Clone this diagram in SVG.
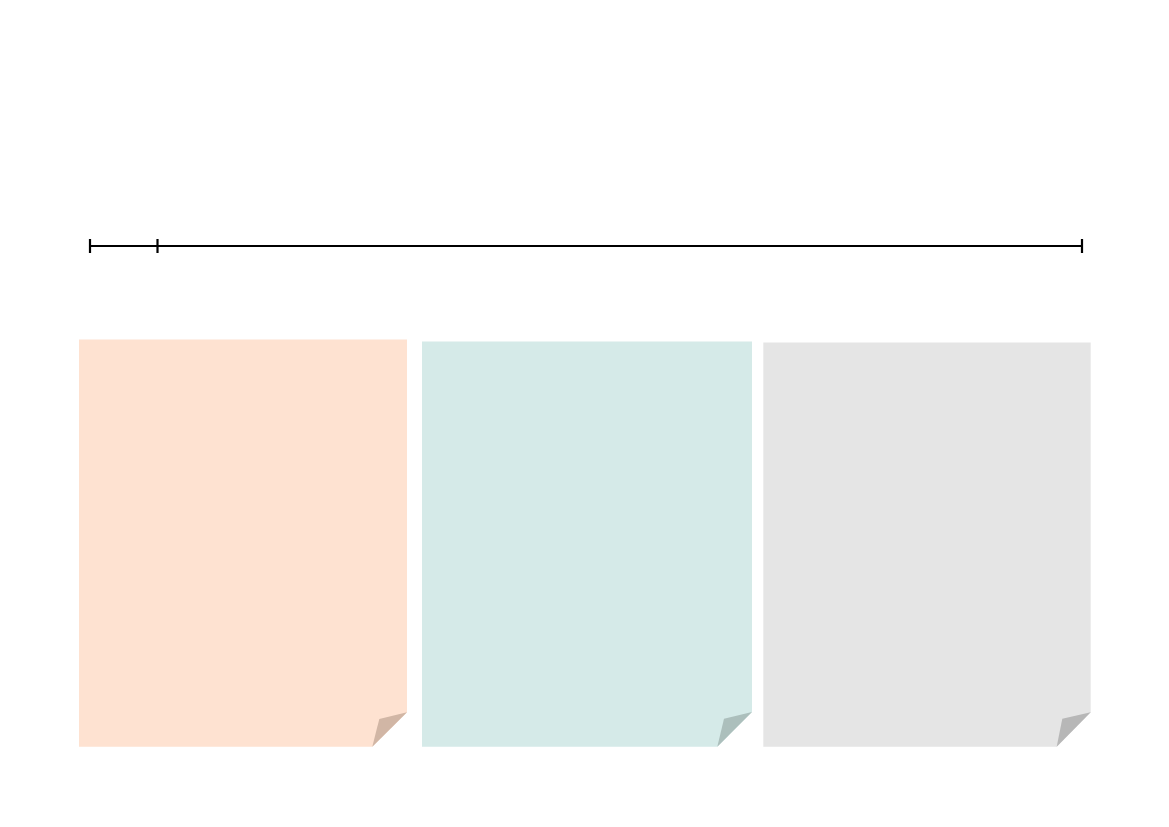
<svg xmlns="http://www.w3.org/2000/svg" width="1169" height="827" viewBox="0 0 1169 827">
<style>
.tl{stroke:#000;stroke-width:2;fill:none}
.tick{stroke:#000;stroke-width:2.2}
</style>
<rect width="1169" height="827" fill="#fff"/>
<g id="connectors">
<line class="tl" x1="90" y1="246" x2="1082" y2="246"/>
<line class="tick" x1="90" y1="239" x2="90" y2="253"/>
<line class="tick" x1="157.5" y1="239" x2="157.5" y2="253"/>
<line class="tick" x1="1082" y1="239" x2="1082" y2="253"/>
</g>
<g id="card1">
<polygon points="79,339.5 407,339.5 407,712.3 372.3,746.7 79,746.7" fill="#FEE2D1"/>
<polygon points="407,712.3 379.3,719 372.3,746.7" fill="#D1B6A5"/>
</g>
<g id="card2">
<polygon points="422,341.5 752,341.5 752,712 717.3,746.7 422,746.7" fill="#D5EAE8"/>
<polygon points="752,712 724,718.7 717.3,746.7" fill="#ACBFBC"/>
</g>
<g id="card3">
<polygon points="763.3,342.5 1090.7,342.5 1090.7,712.3 1056.7,746.7 763.3,746.7" fill="#E5E5E5"/>
<polygon points="1090.7,712.3 1062.3,718.7 1056.7,746.7" fill="#B7B7B7"/>
</g>
</svg>
